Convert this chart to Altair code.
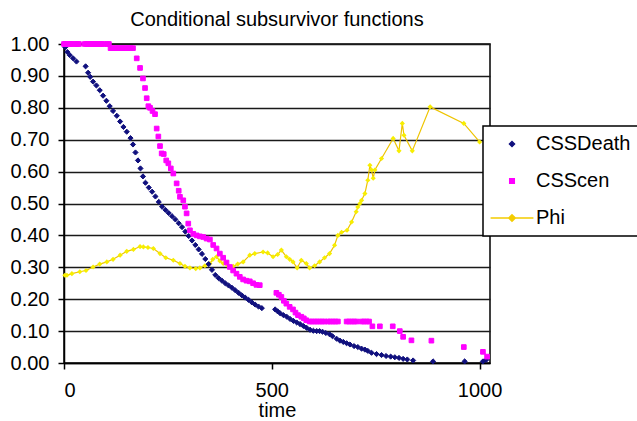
import altair as alt
import pandas as pd

# Conditional subsurvivor function for deaths
death_time = [0, 3, 8, 14, 22, 30, 52, 58, 63, 70, 78, 86, 94, 102, 110, 118, 127, 135,
              143, 151, 160, 166, 172, 178, 184, 190, 196, 204, 212, 220, 228, 236, 244,
              252, 260, 268, 276, 284, 292, 300, 308, 316, 324, 332, 340, 348, 356, 364,
              372, 380, 388, 396, 404, 412, 420, 428, 436, 444, 452, 460, 468, 476, 508,
              514, 520, 528, 536, 544, 552, 560, 568, 576, 584, 592, 600, 608, 615, 622,
              630, 639, 646, 656, 664, 672, 680, 688, 698, 707, 716, 724, 731, 740, 752,
              764, 775, 786, 796, 806, 816, 826, 840, 888, 964, 1008, 1016]
death_value = [1.0, 0.99, 0.975, 0.965, 0.955, 0.945, 0.93, 0.91, 0.897, 0.882, 0.87, 0.855,
               0.838, 0.822, 0.805, 0.79, 0.775, 0.757, 0.74, 0.725, 0.705, 0.685, 0.66,
               0.635, 0.61, 0.585, 0.565, 0.55, 0.537, 0.522, 0.505, 0.49, 0.48, 0.47, 0.46,
               0.45, 0.438, 0.426, 0.412, 0.398, 0.384, 0.37, 0.356, 0.342, 0.326, 0.31,
               0.292, 0.276, 0.266, 0.258, 0.25, 0.243, 0.236, 0.228, 0.22, 0.212, 0.205,
               0.198, 0.19, 0.183, 0.177, 0.172, 0.168, 0.162, 0.156, 0.15, 0.145, 0.138,
               0.132, 0.127, 0.122, 0.116, 0.11, 0.104, 0.101, 0.1, 0.1, 0.098, 0.094, 0.09,
               0.084, 0.076, 0.07, 0.066, 0.062, 0.058, 0.053, 0.05, 0.045, 0.042, 0.038,
               0.032, 0.028, 0.025, 0.022, 0.02, 0.018, 0.016, 0.013, 0.011, 0.008, 0.005,
               0.005, 0.005, 0.01]

# Conditional subsurvivor function for censoring
cen_time = [0, 4, 8, 12, 16, 20, 28, 32, 36, 50, 55, 60, 65, 70, 75, 80, 85, 90, 95, 104,
            108, 112, 118, 124, 130, 136, 142, 148, 154, 160, 166, 175, 183, 190, 195, 199,
            203, 207, 213, 219, 223, 227, 231, 235, 240, 246, 251, 257, 263, 271, 276, 279,
            287, 291, 295, 299, 303, 311, 319, 327, 335, 343, 351, 359, 367, 375, 383, 391,
            399, 407, 415, 423, 431, 439, 447, 455, 463, 471, 511, 517, 523, 529, 535, 543,
            551, 557, 563, 571, 577, 583, 591, 597, 603, 609, 615, 621, 627, 635, 641, 647,
            653, 659, 680, 686, 692, 698, 704, 716, 722, 728, 734, 742, 760, 791, 808, 816,
            836, 884, 962, 1008, 1018]
cen_value = [1.0, 1.0, 1.0, 1.0, 1.0, 1.0, 1.0, 1.0, 1.0, 1.0, 1.0, 1.0, 1.0, 1.0, 1.0, 1.0,
             1.0, 1.0, 1.0, 1.0, 1.0, 0.987, 0.987, 0.987, 0.987, 0.987, 0.987, 0.987, 0.987,
             0.987, 0.987, 0.955, 0.925, 0.892, 0.862, 0.83, 0.805, 0.8, 0.79, 0.78, 0.735,
             0.71, 0.68, 0.657, 0.655, 0.635, 0.626, 0.61, 0.594, 0.563, 0.54, 0.521, 0.51,
             0.49, 0.469, 0.437, 0.416, 0.405, 0.4, 0.397, 0.395, 0.39, 0.387, 0.37, 0.359,
             0.343, 0.33, 0.315, 0.301, 0.29, 0.28, 0.27, 0.262, 0.258, 0.256, 0.25, 0.245,
             0.244, 0.22, 0.214, 0.207, 0.195, 0.186, 0.176, 0.168, 0.158, 0.15, 0.145, 0.14,
             0.134, 0.13, 0.13, 0.13, 0.13, 0.13, 0.13, 0.13, 0.13, 0.13, 0.13, 0.13, 0.13,
             0.13, 0.13, 0.13, 0.13, 0.13, 0.13, 0.13, 0.13, 0.13, 0.115, 0.115, 0.115, 0.1,
             0.082, 0.071, 0.07, 0.05, 0.035, 0.02]

# Phi
phi_time = [2, 7, 19, 38, 53, 70, 86, 103, 118, 135, 151, 167, 183, 191, 202, 215, 231,
            245, 263, 279, 291, 303, 317, 327, 339, 351, 358, 367, 375, 383, 394, 407, 418,
            431, 447, 459, 479, 490, 503, 514, 523, 535, 543, 551, 561, 571, 583, 591, 603,
            615, 627, 639, 651, 659, 668, 681, 692, 703, 707, 712, 716, 724, 731, 736, 740,
            744, 748, 764, 792, 806, 814, 818, 838, 881, 962, 1000]
phi_value = [0.275, 0.275, 0.28, 0.286, 0.29, 0.301, 0.31, 0.317, 0.325, 0.338, 0.35, 0.356,
             0.365, 0.364, 0.362, 0.359, 0.343, 0.33, 0.322, 0.312, 0.303, 0.298, 0.296,
             0.298, 0.305, 0.312, 0.325, 0.333, 0.32, 0.312, 0.305, 0.303, 0.31, 0.317,
             0.338, 0.343, 0.348, 0.345, 0.333, 0.34, 0.354, 0.333, 0.325, 0.317, 0.298,
             0.322, 0.312, 0.298, 0.305, 0.317, 0.33, 0.343, 0.369, 0.4, 0.41, 0.416, 0.442,
             0.474, 0.489, 0.5, 0.51, 0.531, 0.573, 0.62, 0.605, 0.579, 0.605, 0.641, 0.704,
             0.665, 0.751, 0.714, 0.665, 0.803, 0.751, 0.693]

series_names = ["CSSDeath", "CSScen", "Phi"]
series_colors = ["#10107E", "#FF00FF", "#F4CC00"]
# marker paths; the Phi entry carries a line segment so the legend shows line + marker
series_shapes = [
    "M0,-0.42L0.42,0L0,0.42L-0.42,0Z",
    "M-0.38,-0.38H0.38V0.38H-0.38Z",
    "M-3.5,0H3.5M0,-0.55L0.55,0L0,0.55L-0.55,0Z",
]
y_ticks = [0.0, 0.1, 0.2, 0.3, 0.4, 0.5, 0.6, 0.7, 0.8, 0.9, 1.0]
x_ticks = [0, 500, 1000]

FONT = "Liberation Sans"

points = pd.concat([
    pd.DataFrame({"time": death_time, "value": death_value, "series": "CSSDeath"}),
    pd.DataFrame({"time": cen_time, "value": cen_value, "series": "CSScen"}),
])
phi = pd.DataFrame({"time": phi_time, "value": phi_value, "series": "Phi"})

x_enc = alt.X("time:Q",
              scale=alt.Scale(domain=[0, 1025], nice=False, zero=False),
              axis=alt.Axis(values=x_ticks, title="time", grid=False, format="d"))
y_enc = alt.Y("value:Q",
              scale=alt.Scale(domain=[0, 1], nice=False),
              axis=alt.Axis(values=y_ticks, format=".2f", title=None, grid=True))

series_scale_c = alt.Scale(domain=series_names, range=series_colors)
series_scale_s = alt.Scale(domain=series_names, range=series_shapes)

phi_line = alt.Chart(phi).mark_line(color="#EEC400", strokeWidth=1.2).encode(
    x=x_enc, y=y_enc, order="time:Q"
)
phi_marks = alt.Chart(phi).mark_point(
    filled=True, size=150, shape="M0,-0.42L0.42,0L0,0.42L-0.42,0Z",
    color="#F7EE00", opacity=1
).encode(x=x_enc, y=y_enc)

survivor_marks = alt.Chart(points).mark_point(
    filled=True, size=150, strokeWidth=1, opacity=1
).encode(
    x=x_enc,
    y=y_enc,
    fill=alt.Fill("series:N", scale=series_scale_c, legend=alt.Legend(title=None)),
    stroke=alt.Stroke("series:N", scale=series_scale_c, legend=alt.Legend(title=None)),
    shape=alt.Shape("series:N", scale=series_scale_s, legend=alt.Legend(title=None)),
)

chart = alt.layer(phi_line, phi_marks, survivor_marks).properties(
    width=426,
    height=319,
    autosize=alt.AutoSizeParams(type="none"),
    padding={"left": 64, "top": 44, "right": 147, "bottom": 58},
    title=alt.TitleParams(
        "Conditional subsurvivor functions",
        font=FONT, fontSize=20, fontWeight="normal", color="black",
        anchor="middle", frame="group", baseline="bottom", offset=0, dy=16,
    ),
).configure_view(
    stroke="black", strokeWidth=1.5
).configure_axis(
    labelFont=FONT, labelFontSize=20, labelColor="black",
    titleFont=FONT, titleFontSize=20, titleFontWeight="normal", titleColor="black",
    domainColor="black", domainWidth=1.5, tickColor="black", tickWidth=1.5,
    tickSize=6, gridColor="#1a1a1a", gridWidth=1.6, gridOpacity=1,
).configure_axisY(
    labelPadding=9,
).configure_axisX(
    labelPadding=11, titlePadding=0,
).configure_legend(
    orient="none", legendX=419, legendY=82,
    strokeColor="black", strokeWidth=1.5, fillColor="white",
    padding=8, rowPadding=17, symbolSize=150, symbolStrokeWidth=1.4,
    symbolOffset=11, labelOffset=14, labelFont=FONT, labelFontSize=20,
    labelColor="black", labelLimit=300,
)

chart.save("out.html", embed_options={"renderer": "svg", "actions": False})
